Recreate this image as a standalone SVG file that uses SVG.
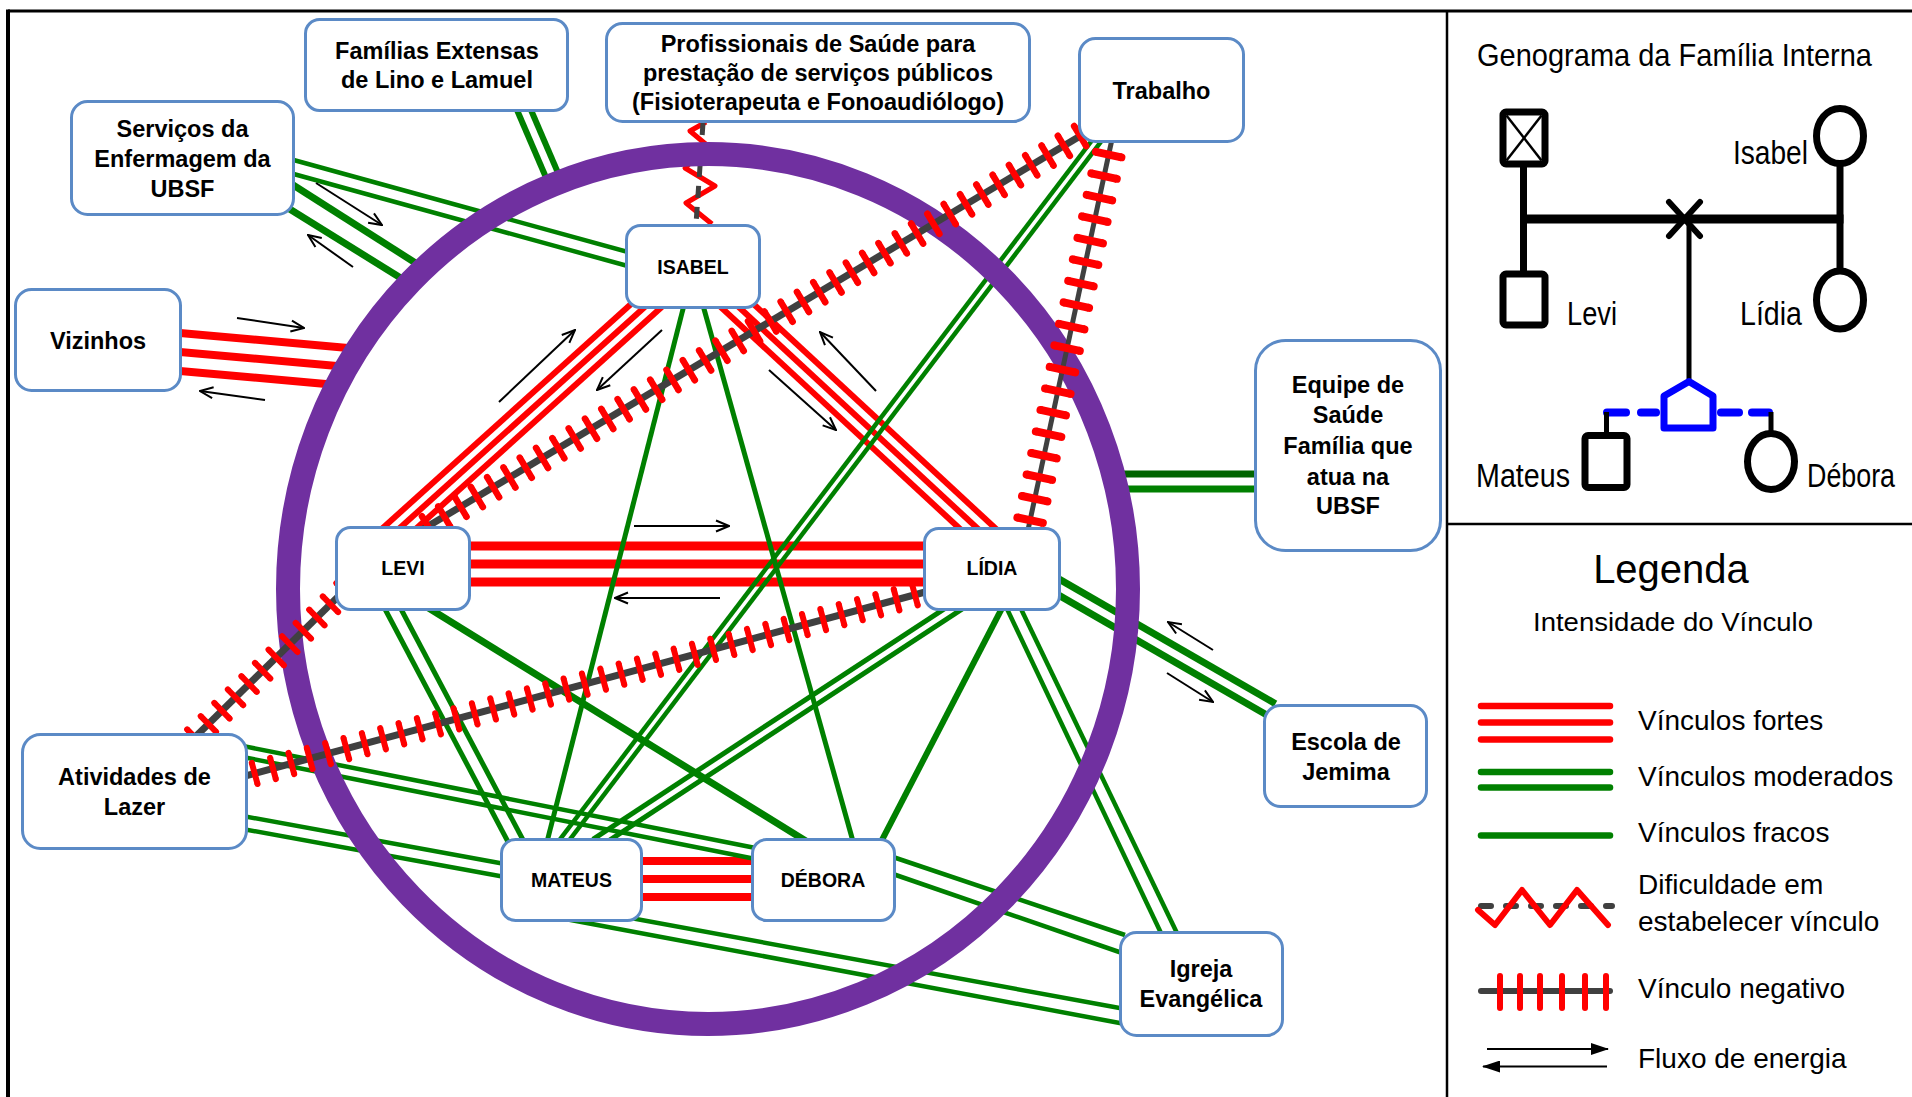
<svg xmlns="http://www.w3.org/2000/svg" width="1912" height="1097" viewBox="0 0 1912 1097">
<style>
  .box{fill:#fff;stroke:#5B8AC6;stroke-width:3}
  .lbl{font-family:"Liberation Sans",Arial,sans-serif;font-weight:bold;text-anchor:middle;fill:#000}
  .big{font-size:23.5px}
  .small{font-size:19.5px}
  .txt{font-family:"Liberation Sans",Arial,sans-serif;fill:#000}
  .g{stroke:#008000;fill:none}
  .gd{stroke:#006400;fill:none}
  .r{stroke:#FF0000;fill:none}
  .arr{stroke:#000;stroke-width:2;fill:none;marker-end:url(#ah)}
  .arrf{stroke:#000;stroke-width:2;fill:none;marker-end:url(#ahf)}
  .ng{stroke:#404040;fill:none}
  .tk{stroke:#FF0000;fill:none}
  .td{stroke:#FF0000;fill:none;stroke-linecap:round}
  .k{stroke:#000;fill:none}
</style>
<defs>
  <marker id="ah" viewBox="0 0 16 14" refX="15" refY="7" markerWidth="16" markerHeight="14" markerUnits="userSpaceOnUse" orient="auto">
    <path d="M2,1.5 L15,7 L2,12.5" fill="none" stroke="#000" stroke-width="2"/>
  </marker>
  <marker id="ahf" viewBox="0 0 18 12" refX="17" refY="6" markerWidth="18" markerHeight="12" markerUnits="userSpaceOnUse" orient="auto">
    <path d="M0,0 L18,6 L0,12 Z" fill="#000"/>
  </marker>
</defs>

<rect width="1912" height="1097" fill="#fff"/>

<!-- page frame and panel dividers -->
<g id="frame" class="k">
  <line x1="8" y1="11" x2="1912" y2="11" stroke-width="3"/>
  <line x1="8" y1="9.5" x2="8" y2="1097" stroke-width="4"/>
  <line x1="1447" y1="11" x2="1447" y2="1097" stroke-width="2.5"/>
  <line x1="1447" y1="524" x2="1912" y2="524" stroke-width="2.5"/>
</g>

<!-- links drawn beneath the family ring -->
<g id="connectors-base">
  <!-- strong bonds -->
  <g class="r" stroke-width="8">
    <line x1="180" y1="333" x2="348" y2="348"/>
    <line x1="180" y1="352" x2="348" y2="367"/>
    <line x1="180" y1="371" x2="348" y2="386"/>
  </g>
  <g class="r" stroke-width="6">
    <line x1="635.5" y1="300" x2="380.6" y2="530"/>
    <line x1="652.5" y1="300" x2="397.6" y2="530"/>
    <line x1="669.5" y1="300" x2="414.6" y2="530"/>
    <line x1="713.2" y1="300" x2="961.2" y2="530"/>
    <line x1="731.2" y1="300" x2="979.2" y2="530"/>
    <line x1="749.2" y1="300" x2="997.2" y2="530"/>
  </g>
  <g class="r" stroke-width="9">
    <line x1="465" y1="546" x2="930" y2="546"/>
    <line x1="465" y1="564" x2="930" y2="564"/>
    <line x1="465" y1="582" x2="930" y2="582"/>
  </g>
  <g class="r" stroke-width="8">
    <line x1="638" y1="861" x2="757" y2="861"/>
    <line x1="638" y1="879" x2="757" y2="879"/>
    <line x1="638" y1="897" x2="757" y2="897"/>
  </g>

  <!-- difficulty in bonding: Profissionais - ISABEL -->
  <polyline points="706,122 690,131 708,146 685,168 715,186 686,203 712,224" class="r" stroke-width="5" stroke-linejoin="round"/>
  <line x1="703" y1="123" x2="696" y2="224" class="ng" stroke-width="5" stroke-dasharray="12 9"/>

  <!-- moderate bonds (double lines) -->
  <g class="g" stroke-width="6">
    <line x1="517" y1="110" x2="550.5" y2="188"/>
    <line x1="531" y1="110" x2="564.5" y2="188"/>
  </g>
  <g class="g" stroke-width="4.5">
    <line x1="290" y1="159" x2="635" y2="254"/>
    <line x1="290" y1="173" x2="635" y2="268"/>
  </g>
  <g class="g" stroke-width="7">
    <line x1="290" y1="183" x2="425" y2="269"/>
    <line x1="288" y1="208" x2="412" y2="285"/>
  </g>
  <line x1="1112" y1="474" x2="1256" y2="474" class="gd" stroke-width="7"/>
  <line x1="1112" y1="489" x2="1256" y2="489" class="g" stroke-width="7"/>
  <g class="g" stroke-width="7">
    <line x1="1053.5" y1="575.9" x2="1275.5" y2="703.8"/>
    <line x1="1046.5" y1="588.1" x2="1268.5" y2="716"/>
  </g>
  <g class="g" stroke-width="5">
    <line x1="380.2" y1="600" x2="509.7" y2="845"/>
    <line x1="396.2" y1="600" x2="525.7" y2="845"/>
  </g>
  <g class="g" stroke-width="4.5">
    <line x1="1101.8" y1="140.6" x2="565.6" y2="845.2"/>
    <line x1="1095.4" y1="135.8" x2="559.2" y2="840.4"/>
  </g>
  <g class="g" stroke-width="5">
    <line x1="962.7" y1="608.6" x2="606.7" y2="842.2"/>
    <line x1="947.3" y1="606.8" x2="592.9" y2="839.3"/>
  </g>
  <g class="g" stroke-width="4.5">
    <line x1="1005.2" y1="605" x2="1162.4" y2="936"/>
    <line x1="1019.1" y1="605" x2="1178.4" y2="936"/>
    <line x1="240" y1="745.4" x2="758" y2="848.5"/>
    <line x1="240" y1="756.4" x2="758" y2="859.5"/>
    <line x1="240" y1="815.5" x2="505" y2="864"/>
    <line x1="240" y1="828.5" x2="505" y2="877"/>
    <line x1="560" y1="905" x2="1125" y2="1009"/>
    <line x1="560" y1="918" x2="1125" y2="1024"/>
    <line x1="890" y1="856" x2="1125" y2="935"/>
    <line x1="890" y1="873" x2="1125" y2="954"/>
  </g>

  <!-- weak bonds (single lines) -->
  <line x1="685.3" y1="300" x2="546.2" y2="845" class="g" stroke-width="5"/>
  <line x1="701.5" y1="300" x2="854" y2="845" class="g" stroke-width="5"/>
  <line x1="415.6" y1="600" x2="812.3" y2="845" class="g" stroke-width="7"/>
  <line x1="1006.2" y1="600" x2="879.4" y2="845" class="g" stroke-width="6"/>
</g>

<!-- internal family ring -->
<g id="family-ring">
  <ellipse cx="708" cy="589" rx="420" ry="435" fill="none" stroke="#7030A0" stroke-width="24"/>
</g>

<!-- negative bonds and energy flow, above the ring -->
<g id="connectors-over">
  <!-- LEVI - Trabalho -->
  <g transform="translate(420 531) rotate(-30.89)">
    <line x2="783" class="ng" stroke-width="7"/>
    <line x1="6" x2="783" class="tk" stroke-width="23.5" stroke-dasharray="6.5 12.5"/>
    <line x1="9.25" y1="-11.75" x2="783" y2="-11.75" class="td" stroke-width="6.5" stroke-dasharray="0 19"/>
    <line x1="9.25" y1="11.75" x2="783" y2="11.75" class="td" stroke-width="6.5" stroke-dasharray="0 19"/>
  </g>
  <!-- LÍDIA - Trabalho -->
  <g transform="translate(1028 530) rotate(-77.87)">
    <line x2="409" class="ng" stroke-width="5"/>
    <line x1="6" x2="409" class="tk" stroke-width="26" stroke-dasharray="8 14"/>
    <line x1="10" y1="-13" x2="409" y2="-13" class="td" stroke-width="8" stroke-dasharray="0 22"/>
    <line x1="10" y1="13" x2="409" y2="13" class="td" stroke-width="8" stroke-dasharray="0 22"/>
  </g>
  <!-- LEVI - Atividades de Lazer -->
  <g transform="translate(349 586) rotate(135.54)">
    <line x2="223" class="ng" stroke-width="7"/>
    <line x1="4" x2="223" class="tk" stroke-width="22" stroke-dasharray="6 13"/>
    <line x1="7" y1="-11" x2="223" y2="-11" class="td" stroke-width="6" stroke-dasharray="0 19"/>
    <line x1="7" y1="11" x2="223" y2="11" class="td" stroke-width="6" stroke-dasharray="0 19"/>
  </g>
  <!-- LÍDIA - Atividades de Lazer -->
  <g transform="translate(940 588) rotate(164.86)">
    <line x2="727" class="ng" stroke-width="7"/>
    <line x1="4" x2="727" class="tk" stroke-width="22" stroke-dasharray="6 13"/>
    <line x1="7" y1="-11" x2="727" y2="-11" class="td" stroke-width="6" stroke-dasharray="0 19"/>
    <line x1="7" y1="11" x2="727" y2="11" class="td" stroke-width="6" stroke-dasharray="0 19"/>
  </g>

  <!-- energy flow arrows -->
  <line x1="316" y1="183" x2="382" y2="225" class="arr"/>
  <line x1="353" y1="267" x2="308" y2="235" class="arr"/>
  <line x1="237" y1="318" x2="304" y2="328" class="arr"/>
  <line x1="265" y1="400" x2="200" y2="391" class="arr"/>
  <line x1="499" y1="402" x2="575" y2="330" class="arr"/>
  <line x1="662" y1="330" x2="597" y2="390" class="arr"/>
  <line x1="876" y1="391" x2="820" y2="332" class="arr"/>
  <line x1="769" y1="370" x2="836" y2="430" class="arr"/>
  <line x1="634" y1="526" x2="729" y2="526" class="arr"/>
  <line x1="720" y1="598" x2="615" y2="598" class="arr"/>
  <line x1="1213" y1="650" x2="1168" y2="622" class="arr"/>
  <line x1="1167" y1="673" x2="1213" y2="702" class="arr"/>
</g>

<!-- nodes -->
<g id="node-familias-extensas">
  <rect class="box" x="305.5" y="19.5" width="262" height="91" rx="14"/>
  <text class="lbl big" x="437" y="59">Famílias Extensas</text>
  <text class="lbl big" x="437" y="88">de Lino e Lamuel</text>
</g>
<g id="node-servicos-enfermagem">
  <rect class="box" x="71.5" y="101.5" width="222" height="113" rx="16"/>
  <text class="lbl big" x="182.5" y="137">Serviços da</text>
  <text class="lbl big" x="182.5" y="167">Enfermagem da</text>
  <text class="lbl big" x="182.5" y="197">UBSF</text>
</g>
<g id="node-vizinhos">
  <rect class="box" x="15.5" y="289.5" width="165" height="101" rx="16"/>
  <text class="lbl big" x="98" y="349">Vizinhos</text>
</g>
<g id="node-profissionais-saude">
  <rect class="box" x="606.5" y="23.5" width="423" height="98" rx="16"/>
  <text class="lbl big" x="818" y="52">Profissionais de Saúde para</text>
  <text class="lbl big" x="818" y="81">prestação de serviços públicos</text>
  <text class="lbl big" x="818" y="110">(Fisioterapeuta e Fonoaudiólogo)</text>
</g>
<g id="node-trabalho">
  <rect class="box" x="1079.5" y="38.5" width="164" height="103" rx="16"/>
  <text class="lbl big" x="1161.5" y="99">Trabalho</text>
</g>
<g id="node-isabel">
  <rect class="box" x="626.5" y="225.5" width="133" height="82" rx="14"/>
  <text class="lbl small" x="693" y="274">ISABEL</text>
</g>
<g id="node-equipe-saude">
  <rect class="box" x="1255.5" y="340.5" width="185" height="210" rx="30"/>
  <text class="lbl big" x="1348" y="393">Equipe de</text>
  <text class="lbl big" x="1348" y="423">Saúde</text>
  <text class="lbl big" x="1348" y="454">Família que</text>
  <text class="lbl big" x="1348" y="485">atua na</text>
  <text class="lbl big" x="1348" y="514">UBSF</text>
</g>
<g id="node-levi">
  <rect class="box" x="336.5" y="527.5" width="133" height="82" rx="14"/>
  <text class="lbl small" x="403" y="575">LEVI</text>
</g>
<g id="node-lidia">
  <rect class="box" x="924.5" y="528.5" width="135" height="81" rx="14"/>
  <text class="lbl small" x="992" y="575">LÍDIA</text>
</g>
<g id="node-mateus">
  <rect class="box" x="501.5" y="839.5" width="140" height="81" rx="14"/>
  <text class="lbl small" x="571.5" y="887">MATEUS</text>
</g>
<g id="node-debora">
  <rect class="box" x="752.5" y="839.5" width="142" height="81" rx="14"/>
  <text class="lbl small" x="823" y="887">DÉBORA</text>
</g>
<g id="node-atividades-lazer">
  <rect class="box" x="22.5" y="734.5" width="224" height="114" rx="18"/>
  <text class="lbl big" x="134.5" y="785">Atividades de</text>
  <text class="lbl big" x="134.5" y="815">Lazer</text>
</g>
<g id="node-escola-jemima">
  <rect class="box" x="1264.5" y="705.5" width="162" height="101" rx="16"/>
  <text class="lbl big" x="1346" y="750">Escola de</text>
  <text class="lbl big" x="1346" y="780">Jemima</text>
</g>
<g id="node-igreja-evangelica">
  <rect class="box" x="1120.5" y="932.5" width="162" height="103" rx="16"/>
  <text class="lbl big" x="1201" y="977">Igreja</text>
  <text class="lbl big" x="1201" y="1007">Evangélica</text>
</g>

<!-- genogram of the internal family -->
<g id="genogram">
  <text class="txt" x="1477" y="66" font-size="32" textLength="395" lengthAdjust="spacingAndGlyphs">Genograma da Família Interna</text>
  <g class="k" stroke-width="7">
    <line x1="1523.5" y1="164" x2="1523.5" y2="274"/>
    <line x1="1840" y1="164" x2="1840" y2="271"/>
  </g>
  <line x1="1520" y1="219" x2="1843.5" y2="219" class="k" stroke-width="9"/>
  <g class="k" stroke-width="6" stroke-linecap="round">
    <line x1="1669" y1="202" x2="1700" y2="236"/>
    <line x1="1700" y1="202" x2="1669" y2="236"/>
  </g>
  <line x1="1689" y1="219" x2="1689" y2="381" class="k" stroke-width="5"/>
  <!-- deceased father -->
  <rect x="1503" y="112" width="42" height="52" rx="3" class="k" stroke-width="7" fill="#fff"/>
  <g class="k" stroke-width="2.5">
    <line x1="1506.5" y1="115.5" x2="1541.5" y2="160.5"/>
    <line x1="1541.5" y1="115.5" x2="1506.5" y2="160.5"/>
  </g>
  <ellipse cx="1840" cy="136" rx="23.5" ry="27.5" class="k" stroke-width="7" fill="#fff"/>
  <rect x="1503" y="274" width="42" height="51" rx="3" class="k" stroke-width="7" fill="#fff"/>
  <ellipse cx="1840" cy="300" rx="23.5" ry="29" class="k" stroke-width="7" fill="#fff"/>
  <!-- children -->
  <g stroke="#0000FF" stroke-width="8" stroke-linecap="round" fill="none">
    <line x1="1607" y1="412.5" x2="1626" y2="412.5"/>
    <line x1="1641" y1="412.5" x2="1656" y2="412.5"/>
    <line x1="1721" y1="412.5" x2="1739" y2="412.5"/>
    <line x1="1752" y1="412.5" x2="1769" y2="412.5"/>
  </g>
  <polygon points="1689,381.5 1713,396 1713,428 1664,428 1664,396" fill="none" stroke="#0000FF" stroke-width="7" stroke-linejoin="round"/>
  <line x1="1606.5" y1="412" x2="1606.5" y2="435" class="k" stroke-width="5"/>
  <line x1="1771" y1="412" x2="1771" y2="433" class="k" stroke-width="5"/>
  <rect x="1585" y="435.5" width="42" height="52" rx="3" class="k" stroke-width="7" fill="#fff"/>
  <ellipse cx="1771" cy="461.5" rx="23.5" ry="28" class="k" stroke-width="7" fill="#fff"/>
  <g class="txt" font-size="33">
    <text x="1733" y="164" textLength="75" lengthAdjust="spacingAndGlyphs">Isabel</text>
    <text x="1567" y="325" textLength="50" lengthAdjust="spacingAndGlyphs">Levi</text>
    <text x="1740" y="325" textLength="62" lengthAdjust="spacingAndGlyphs">Lídia</text>
    <text x="1476" y="487" textLength="94" lengthAdjust="spacingAndGlyphs">Mateus</text>
    <text x="1807" y="487" textLength="88" lengthAdjust="spacingAndGlyphs">Débora</text>
  </g>
</g>

<!-- legend -->
<g id="legend">
  <text class="txt" x="1671" y="583" font-size="40" text-anchor="middle">Legenda</text>
  <text class="txt" x="1533" y="631" font-size="25" textLength="280" lengthAdjust="spacingAndGlyphs">Intensidade do Vínculo</text>
  <g stroke-linecap="round" stroke-width="6.5" fill="none">
    <line x1="1481" y1="706" x2="1610" y2="706" stroke="#FF0000"/>
    <line x1="1481" y1="722.5" x2="1610" y2="722.5" stroke="#FF0000"/>
    <line x1="1481" y1="739.5" x2="1610" y2="739.5" stroke="#FF0000"/>
    <line x1="1481" y1="772" x2="1610" y2="772" stroke="#008000"/>
    <line x1="1481" y1="787.5" x2="1610" y2="787.5" stroke="#008000"/>
    <line x1="1481" y1="835.5" x2="1610" y2="835.5" stroke="#008000"/>
  </g>
  <line x1="1481" y1="906" x2="1612" y2="906" stroke="#404040" stroke-width="6" stroke-linecap="round" stroke-dasharray="10 15"/>
  <polyline points="1478,910 1495,925 1522,890 1550,925 1577,890 1608,925" fill="none" stroke="#FF0000" stroke-width="6" stroke-linejoin="round" stroke-linecap="round"/>
  <line x1="1481" y1="991" x2="1610" y2="991" stroke="#404040" stroke-width="6" stroke-linecap="round"/>
  <g stroke="#FF0000" stroke-width="6" stroke-linecap="round">
    <line x1="1500" y1="976" x2="1500" y2="1008"/>
    <line x1="1520" y1="976" x2="1520" y2="1008"/>
    <line x1="1540" y1="976" x2="1540" y2="1008"/>
    <line x1="1562" y1="976" x2="1562" y2="1008"/>
    <line x1="1585" y1="976" x2="1585" y2="1008"/>
    <line x1="1606" y1="976" x2="1606" y2="1008"/>
  </g>
  <line x1="1487" y1="1049" x2="1608" y2="1049" class="arrf"/>
  <line x1="1607" y1="1066.5" x2="1483" y2="1066.5" class="arrf"/>
  <g class="txt" font-size="28">
    <text x="1638" y="730">Vínculos fortes</text>
    <text x="1638" y="786">Vínculos moderados</text>
    <text x="1638" y="842">Vínculos fracos</text>
    <text x="1638" y="893.5">Dificuldade em</text>
    <text x="1638" y="931">estabelecer vínculo</text>
    <text x="1638" y="998">Vínculo negativo</text>
    <text x="1638" y="1068">Fluxo de energia</text>
  </g>
</g>
</svg>
